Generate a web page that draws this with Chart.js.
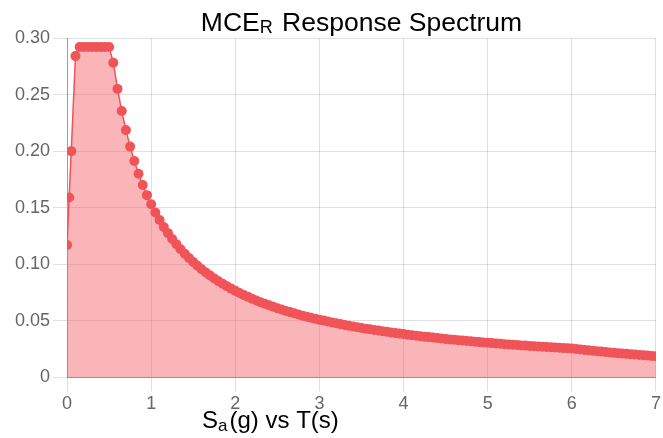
<!DOCTYPE html>
<html>
<head>
<meta charset="utf-8">
<title>MCER Response Spectrum</title>
<script src="https://cdn.jsdelivr.net/npm/chart.js@4.4.1/dist/chart.umd.min.js"></script>
<style>
  html, body { margin: 0; padding: 0; background: #fff; }
  #wrap { width: 663px; height: 438px; }
</style>
</head>
<body>
<div id="wrap"><canvas id="spectrumChart" width="663" height="438"></canvas></div>
<script>
// Period T (s)
const periods = [
    0, 0.025, 0.05, 0.1,
    0.15, 0.2, 0.25, 0.3, 0.35, 0.4, 0.45, 0.5,
    0.55, 0.6, 0.65, 0.7, 0.75, 0.8, 0.85, 0.9, 0.95, 1.0,
    1.05, 1.1, 1.15, 1.2, 1.25, 1.3, 1.35, 1.4, 1.45, 1.5,
    1.55, 1.6, 1.65, 1.7, 1.75, 1.8, 1.85, 1.9, 1.95, 2.0,
    2.05, 2.1, 2.15, 2.2, 2.25, 2.3, 2.35, 2.4, 2.45, 2.5,
    2.55, 2.6, 2.65, 2.7, 2.75, 2.8, 2.85, 2.9, 2.95, 3.0,
    3.05, 3.1, 3.15, 3.2, 3.25, 3.3, 3.35, 3.4, 3.45, 3.5,
    3.55, 3.6, 3.65, 3.7, 3.75, 3.8, 3.85, 3.9, 3.95, 4.0,
    4.05, 4.1, 4.15, 4.2, 4.25, 4.3, 4.35, 4.4, 4.45, 4.5,
    4.55, 4.6, 4.65, 4.7, 4.75, 4.8, 4.85, 4.9, 4.95, 5.0,
    5.05, 5.1, 5.15, 5.2, 5.25, 5.3, 5.35, 5.4, 5.45, 5.5,
    5.55, 5.6, 5.65, 5.7, 5.75, 5.8, 5.85, 5.9, 5.95, 6.0,
    6.05, 6.1, 6.15, 6.2, 6.25, 6.3, 6.35, 6.4, 6.45, 6.5,
    6.55, 6.6, 6.65, 6.7, 6.75, 6.8, 6.85, 6.9, 6.95, 7.0
];

// Spectral acceleration Sa (g)
const spectralAccel = [
    0.117, 0.159, 0.200, 0.284,
    0.292, 0.292, 0.292, 0.292, 0.292, 0.292, 0.292, 0.292,
    0.2782, 0.2550, 0.2354, 0.2186, 0.2040, 0.1913, 0.1800, 0.1700, 0.1611, 0.1530,
    0.1457, 0.1391, 0.1330, 0.1275, 0.1224, 0.1177, 0.1133, 0.1093, 0.1055, 0.1020,
    0.0987, 0.0956, 0.0927, 0.0900, 0.0874, 0.0850, 0.0827, 0.0805, 0.0785, 0.0765,
    0.0746, 0.0729, 0.0712, 0.0695, 0.0680, 0.0665, 0.0651, 0.0638, 0.0624, 0.0612,
    0.0600, 0.0588, 0.0577, 0.0567, 0.0556, 0.0546, 0.0537, 0.0528, 0.0519, 0.0510,
    0.0502, 0.0494, 0.0486, 0.0478, 0.0471, 0.0464, 0.0457, 0.0450, 0.0443, 0.0437,
    0.0431, 0.0425, 0.0419, 0.0414, 0.0408, 0.0403, 0.0397, 0.0392, 0.0387, 0.0383,
    0.0378, 0.0373, 0.0369, 0.0364, 0.0360, 0.0356, 0.0352, 0.0348, 0.0344, 0.0340,
    0.0336, 0.0333, 0.0329, 0.0326, 0.0322, 0.0319, 0.0315, 0.0312, 0.0309, 0.0306,
    0.0303, 0.0300, 0.0297, 0.0294, 0.0291, 0.0289, 0.0286, 0.0283, 0.0281, 0.0278,
    0.0276, 0.0273, 0.0271, 0.0268, 0.0266, 0.0264, 0.0262, 0.0259, 0.0257, 0.0255,
    0.0251, 0.0247, 0.0243, 0.0239, 0.0235, 0.0231, 0.0228, 0.0224, 0.0221, 0.0217,
    0.0214, 0.0211, 0.0208, 0.0205, 0.0202, 0.0199, 0.0196, 0.0193, 0.0190, 0.0187
];

const xRange = [0, 7];
const yRange = [0, 0.30];
const xStep = 1;
const yStep = 0.05;

const RED = 'rgb(240, 84, 88)';
const RED_FILL = 'rgba(240, 84, 88, 0.43)';
const FONT = '"Liberation Sans", Arial, Helvetica, sans-serif';

// draws a string with one subscripted run: [before, sub, after]
function drawSubText(ctx, x, y, parts, size, subSize, subDrop, align) {
    ctx.save();
    ctx.fillStyle = '#000';
    ctx.textBaseline = 'alphabetic';
    ctx.textAlign = 'left';
    const big = `${size}px ${FONT}`;
    const small = `${subSize}px ${FONT}`;
    ctx.font = big;
    const w0 = ctx.measureText(parts[0]).width;
    const w2 = ctx.measureText(parts[2]).width;
    ctx.font = small;
    const w1 = ctx.measureText(parts[1]).width + 2;
    let left = x;
    if (align === 'center') left = x - (w0 + w1 + w2) / 2;
    ctx.font = big;
    ctx.fillText(parts[0], left, y);
    ctx.font = small;
    ctx.fillText(parts[1], left + w0, y + subDrop);
    ctx.font = big;
    ctx.fillText(parts[2], left + w0 + w1, y);
    ctx.restore();
}

const labelsPlugin = {
    id: 'spectrumLabels',
    afterDraw(chart) {
        const { ctx, chartArea } = chart;
        const cx = (chartArea.left + chartArea.right) / 2;
        drawSubText(ctx, cx, 31, ['MCE', 'R', ' Response Spectrum'], 26.5, 18, 2, 'center');
        drawSubText(ctx, 202, 428, ['S', 'a', '(g) vs T(s)'], 24, 17, 3, 'left');
    }
};

const ctx = document.getElementById('spectrumChart').getContext('2d');
new Chart(ctx, {
    type: 'line',
    data: {
        datasets: [{
            data: periods.map((t, i) => ({ x: t, y: spectralAccel[i] })),
            borderColor: RED,
            borderWidth: 1.5,
            backgroundColor: RED_FILL,
            pointBackgroundColor: RED,
            pointBorderColor: RED,
            pointBorderWidth: 0,
            pointRadius: 5,
            fill: 'origin',
            tension: 0
        }]
    },
    options: {
        responsive: false,
        animation: false,
        layout: { padding: { top: 38, left: 12, right: 0, bottom: 21 } },
        plugins: {
            legend: { display: false },
            tooltip: { enabled: false }
        },
        scales: {
            x: {
                type: 'linear',
                min: xRange[0],
                max: xRange[1],
                ticks: {
                    stepSize: xStep,
                    color: '#666',
                    font: { size: 18, family: FONT },
                    padding: 2,
                    maxRotation: 0
                },
                grid: { color: 'rgba(0,0,0,0.12)', tickLength: 14 },
                border: { color: 'rgba(0,0,0,0.35)' }
            },
            y: {
                min: yRange[0],
                max: yRange[1],
                ticks: {
                    stepSize: yStep,
                    color: '#666',
                    font: { size: 18, family: FONT },
                    padding: 3,
                    callback: v => (v === 0 ? '0' : v.toFixed(2))
                },
                grid: { color: 'rgba(0,0,0,0.12)', tickLength: 14 },
                border: { color: 'rgba(0,0,0,0.3)' }
            }
        }
    },
    plugins: [labelsPlugin]
});
</script>
</body>
</html>
